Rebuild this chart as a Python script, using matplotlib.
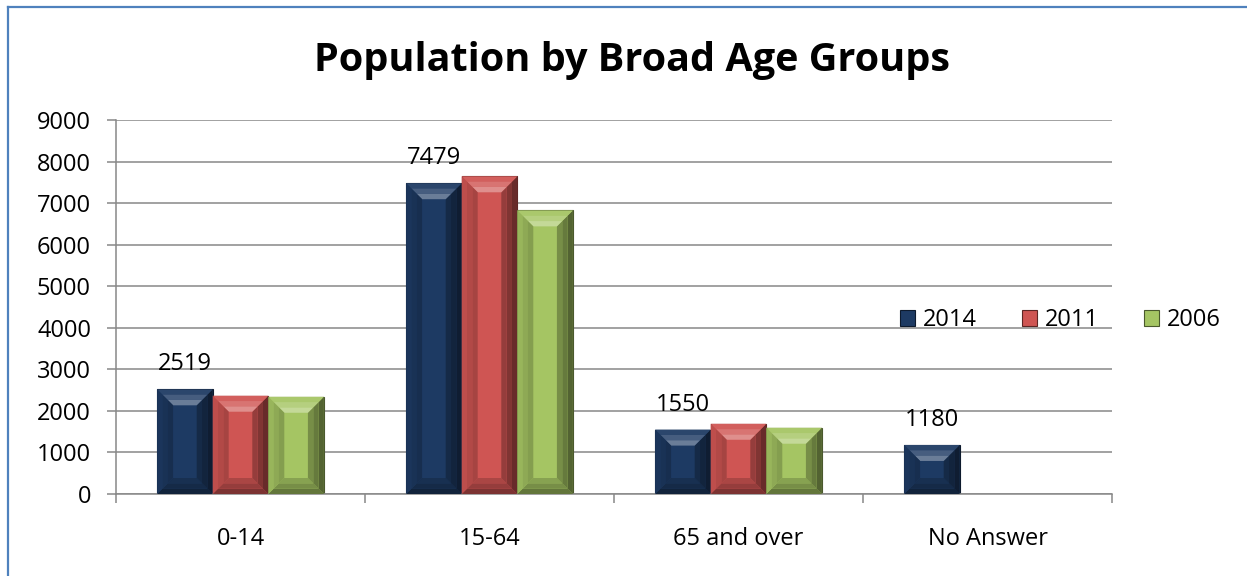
import numpy as np
import matplotlib.pyplot as plt
import matplotlib.colors as mcolors
from matplotlib.patches import Polygon
from matplotlib.lines import Line2D

categories = ['0-14', '15-64', '65 and over', 'No Answer']
years = ['2014', '2011', '2006']
pop_2014 = [2519, 7479, 1550, 1180]
pop_2011 = [2365, 7645, 1690, np.nan]
pop_2006 = [2340, 6825, 1595, np.nan]
yticks = np.arange(0, 9001, 1000)

colors = ['#1d3a63', '#cf5553', '#a5c563']
grid_col = '#888888'

plt.rcParams['font.family'] = ['Open Sans', 'DejaVu Sans']


def shade(c, f):
    r = np.array(mcolors.to_rgb(c))
    if f >= 0:
        r = r + (1 - r) * f
    else:
        r = r * (1 + f)
    return tuple(r)


def bevel(ax, rect, color, b=16):
    x0, y0 = rect.get_x(), rect.get_y()
    w, h = rect.get_width(), rect.get_height()
    if not np.isfinite(h) or h <= 0:
        return
    (px0, py0), (px1, py1) = ax.transData.transform([[x0, y0], [x0 + w, y0 + h]])
    bb = min(b, (px1 - px0) / 2, (py1 - py0) / 2)
    inv = ax.transData.inverted()
    o = np.array([[px0, py0], [px1, py0], [px1, py1], [px0, py1]])
    i = np.array([[px0 + bb, py0 + bb], [px1 - bb, py0 + bb],
                  [px1 - bb, py1 - bb], [px0 + bb, py1 - bb]])
    sides = {
        'bottom': (0, 1, [-0.4, -0.28, -0.18]),
        'right': (1, 2, [-0.5, -0.38, -0.28]),
        'top': (2, 3, [0.06, 0.18, 0.34]),
        'left': (3, 0, [-0.08, -0.14, -0.2]),
    }
    for name, (a, c, fs) in sides.items():
        n = len(fs)
        for k, f in enumerate(fs):
            t0, t1 = k / n, (k + 1) / n
            pa0 = o[a] + (i[a] - o[a]) * t0
            pc0 = o[c] + (i[c] - o[c]) * t0
            pa1 = o[a] + (i[a] - o[a]) * t1
            pc1 = o[c] + (i[c] - o[c]) * t1
            pts = inv.transform(np.array([pa0, pc0, pc1, pa1]))
            ax.add_patch(Polygon(pts, closed=True, facecolor=shade(color, f),
                                 edgecolor='none', zorder=3))


fig = plt.figure(figsize=(12.47, 5.76), dpi=100)
ax = fig.add_axes([116 / 1247, 82 / 576, 996 / 1247, 374 / 576])

x = np.arange(len(categories))
width = 0.2233
series = [pop_2014, pop_2011, pop_2006]
ax.set_xlim(-0.5, len(categories) - 0.5)
ax.set_ylim(0, 9000)

for k, (vals, col, yr) in enumerate(zip(series, colors, years)):
    bars = ax.bar(x + (k - 1) * width, vals, width, color=col, label=yr,
                  edgecolor=shade(col, -0.55), linewidth=0.8, zorder=2)
    for r in bars:
        bevel(ax, r, col)

for xi, v in zip(x - width, pop_2014):
    ax.annotate(str(v), (xi, v), xytext=(0, 13.7), textcoords='offset points',
                ha='center', va='baseline', fontsize=17, color='black')

ax.set_yticks(yticks)
ax.set_xticks(x)
ax.set_xticklabels(categories)
ax.set_xticks(np.arange(-0.5, len(categories), 1), minor=True)
ax.tick_params(axis='y', direction='out', length=6.5, width=1.1, color=grid_col,
               pad=11.5, labelsize=17)
ax.tick_params(axis='x', which='major', length=0, pad=24, labelsize=17)
ax.tick_params(axis='x', which='minor', direction='out', length=6.5, width=1.1,
               color=grid_col)
ax.yaxis.grid(True, color=grid_col, linewidth=1.1)
ax.set_axisbelow(True)
for s in ['top', 'right']:
    ax.spines[s].set_visible(False)
for s in ['left', 'bottom']:
    ax.spines[s].set_color(grid_col)
    ax.spines[s].set_linewidth(1.1)

ax.legend(loc='center left', bbox_to_anchor=(0.787, 0.465), ncol=3, frameon=False,
          fontsize=17, handlelength=0.64, handleheight=0.64, handletextpad=0.34,
          columnspacing=1.9, borderpad=0, borderaxespad=0)

fig.text(632 / 1247, 1 - 61 / 576, 'Population by Broad Age Groups',
         ha='center', va='center', fontsize=28.5, fontweight='bold')

# border on the left and top edges
fig.add_artist(Line2D([8 / 1247, 8 / 1247], [0, 1 - 7 / 576], transform=fig.transFigure,
                      color='#4f81bd', linewidth=1.6))
fig.add_artist(Line2D([8 / 1247, 1], [1 - 7 / 576, 1 - 7 / 576], transform=fig.transFigure,
                      color='#4f81bd', linewidth=1.6))

fig.savefig('out.png', dpi=100)
